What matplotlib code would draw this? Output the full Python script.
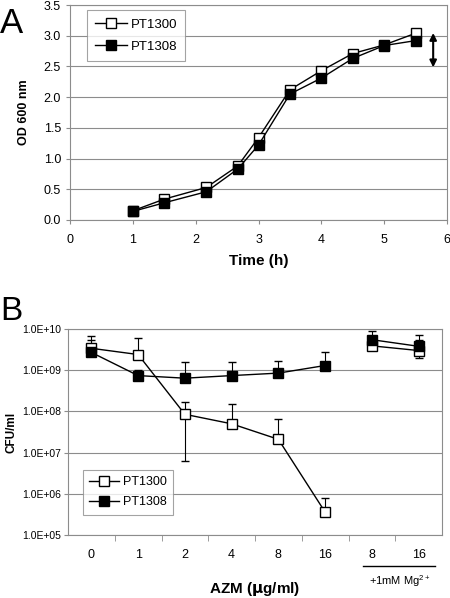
import numpy as np
import matplotlib
matplotlib.use('Agg')
import matplotlib.pyplot as plt
import matplotlib.transforms as mtransforms

plt.rcParams['font.family'] = ['Liberation Sans', 'DejaVu Sans']

# panel A: growth curves
time_h = [1, 1.5, 2.17, 2.67, 3, 3.5, 4, 4.5, 5, 5.5]
od_1300 = [0.15, 0.34, 0.53, 0.88, 1.34, 2.12, 2.43, 2.71, 2.85, 3.04]
od_1308 = [0.14, 0.28, 0.46, 0.83, 1.22, 2.05, 2.31, 2.63, 2.84, 2.92]

# panel B: survival
azm_labels = ['0', '1', '2', '4', '8', '16', '8', '16']
cfu_1300 = [3.4e9, 2.4e9, 8.5e7, 5.0e7, 2.1e7, 3.6e5, 3.9e9, 3.0e9]
cfu_1300_hi = [5.5e9, 6.0e9, 1.65e8, 1.5e8, 6.6e7, 8.1e5, 3.9e9, 5.5e9]
cfu_1300_lo = [3.4e9, 2.4e9, 6.3e6, 5.0e7, 2.1e7, 3.6e5, 3.9e9, 2.0e9]
cfu_1308 = [2.7e9, 7.4e8, 6.4e8, 7.4e8, 8.5e8, 1.3e9, 5.5e9, 3.8e9]
cfu_1308_hi = [6.9e9, 1.0e9, 1.6e9, 1.6e9, 1.7e9, 2.7e9, 8.8e9, 7.3e9]

grey = '#8c8c8c'
fig = plt.figure(figsize=(4.5, 5.98), dpi=100)

# ---------------- A
axA = fig.add_axes([70/450, 1-220/598, 377/450, 215/598])
axA.plot(time_h, od_1300, 'k-', lw=1, marker='s', ms=7, mfc='white', mec='k', mew=1, label='PT1300', zorder=3)
axA.plot(time_h, od_1308, 'k-', lw=1, marker='s', ms=7, mfc='k', mec='k', label='PT1308', zorder=3)
axA.set_xlim(0, 6)
axA.set_ylim(0, 3.5)
axA.set_xticks(range(7))
axA.set_yticks(np.arange(0, 3.51, 0.5))
axA.set_yticklabels(['%.1f' % v for v in np.arange(0, 3.51, 0.5)])
axA.yaxis.grid(True, color=grey, lw=0.8)
axA.set_axisbelow(True)
for s in axA.spines.values():
    s.set_color(grey)
axA.tick_params(labelsize=9, color=grey, length=3, direction='out')
axA.tick_params(axis='x', pad=7)
axA.set_xlabel('Time (h)', fontsize=11, fontweight='bold', labelpad=6)
axA.set_ylabel('OD 600 nm', fontsize=9, fontweight='bold', labelpad=10)
axA.annotate('', xy=(5.78, 2.44), xytext=(5.78, 3.09),
             arrowprops=dict(arrowstyle='<|-|>', color='k', lw=1.5, mutation_scale=10))
legA = axA.legend(loc='upper left', bbox_to_anchor=(0.045, 0.975), fontsize=9.5,
                  fancybox=False, edgecolor=grey, handlelength=2.4, borderpad=0.6,
                  handletextpad=0.3, labelspacing=0.75, borderaxespad=0)
legA.get_frame().set_linewidth(0.8)
fig.text(0.0, 1-33/598, 'A', fontsize=25)

# ---------------- B
axB = fig.add_axes([68/450, 1-535/598, 374/450, 206/598])
pos = np.arange(len(azm_labels))
err1300 = [np.array(cfu_1300) - np.array(cfu_1300_lo), np.array(cfu_1300_hi) - np.array(cfu_1300)]
err1308 = [np.zeros(len(cfu_1308)), np.array(cfu_1308_hi) - np.array(cfu_1308)]
axB.errorbar(pos, cfu_1300, yerr=err1300, fmt='none', ecolor='k', elinewidth=0.8, capsize=3, zorder=2)
axB.errorbar(pos, cfu_1308, yerr=err1308, fmt='none', ecolor='k', elinewidth=0.8, capsize=3, zorder=2)
for seg in (slice(0, 6), slice(6, 8)):
    axB.plot(pos[seg], cfu_1300[seg], 'k-', lw=1, marker='s', ms=6.5, mfc='white', mec='k', zorder=3,
             label='PT1300' if seg.start == 0 else None)
    axB.plot(pos[seg], cfu_1308[seg], 'k-', lw=1, marker='s', ms=6.5, mfc='k', mec='k', zorder=3,
             label='PT1308' if seg.start == 0 else None)
axB.set_yscale('log')
axB.set_ylim(1e5, 1e10)
axB.set_xlim(-0.5, 7.5)
yt = [1e5, 1e6, 1e7, 1e8, 1e9, 1e10]
axB.set_yticks(yt)
axB.set_yticklabels(['1.0E+%02d' % int(np.log10(v)) for v in yt])
axB.yaxis.set_minor_locator(matplotlib.ticker.NullLocator())
axB.set_xticks(pos)
axB.set_xticklabels(azm_labels)
axB.set_xticks(np.arange(0.5, 7, 1), minor=True)
axB.tick_params(axis='x', which='major', length=0, pad=10, labelsize=9)
axB.tick_params(axis='x', which='minor', length=4, color=grey)
axB.tick_params(axis='y', length=3, color=grey, labelsize=7.5, pad=2)
axB.yaxis.grid(True, color=grey, lw=0.8)
axB.set_axisbelow(True)
for s in axB.spines.values():
    s.set_color(grey)
axB.set_ylabel('CFU/ml', fontsize=8.5, fontweight='bold', labelpad=3)
axB.set_xlabel(r'AZM ($\mathbf{\mu}$g/ml)', fontsize=11, fontweight='bold', labelpad=14)
tr = mtransforms.blended_transform_factory(axB.transData, axB.transAxes)
axB.plot([5.82, 7.36], [-0.15, -0.15], 'k-', lw=1, transform=tr, clip_on=False)
axB.text(6.61, -0.225, r'+1mM Mg$^{\mathregular{2+}}$', fontsize=8, ha='center', va='center', transform=tr)
legB = axB.legend(loc='upper left', bbox_to_anchor=(0.04, 0.316), fontsize=9,
                  fancybox=False, edgecolor=grey, handlelength=2.4, borderpad=0.5,
                  handletextpad=0.3, labelspacing=0.65, borderaxespad=0)
legB.get_frame().set_linewidth(0.8)
fig.text(0.0, 1-320/598, 'B', fontsize=24)

fig.savefig('out.png', dpi=100)
